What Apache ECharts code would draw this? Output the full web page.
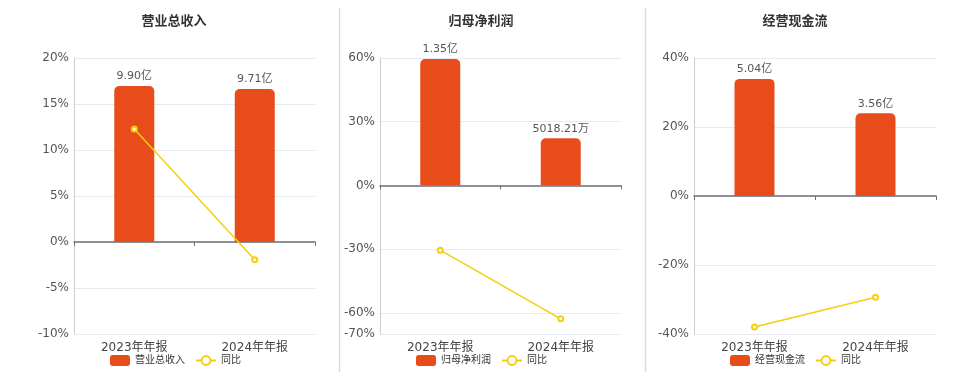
<!DOCTYPE html>
<html><head><meta charset="utf-8">
<script src="https://cdn.jsdelivr.net/npm/echarts@6/dist/echarts.min.js"></script>
<style>html,body{margin:0;padding:0;background:#fff}#c{width:960px;height:372px}</style>
</head><body><div id="c"></div>
<script>
const categories = ['2023年年报', '2024年年报'];
const titles = ['营业总收入', '归母净利润', '经营现金流'];
const yoyName = '同比';

const revenueValues = [9.90, 9.71];          // 亿
const revenueLabels = ['9.90亿', '9.71亿'];
const revenueYoY = [12.28, -1.92];           // %

const profitValues = [1.35, 0.501821];       // 亿
const profitLabels = ['1.35亿', '5018.21万'];
const profitYoY = [-30.5, -62.83];

const cashValues = [5.04, 3.56];             // 亿
const cashLabels = ['5.04亿', '3.56亿'];
const cashYoY = [-38.0, -29.37];

const yTicks1 = [-10, -5, 0, 5, 10, 15, 20];
const yTicks2 = [-70, -60, -30, 0, 30, 60];
const yTicks3 = [-40, -20, 0, 20, 40];

const FONT = "'DejaVu Sans', 'Noto Sans CJK SC', sans-serif";
const BAR_COLOR = '#E84C1B';
const LINE_COLOR = '#F5CE0E';

const panels = [
  { title: titles[0], values: revenueValues, labels: revenueLabels, yoy: revenueYoY, ticks: yTicks1,
    grid: { left: 74, right: 645 }, barRange: [-5.84, 11.68], center: 169, legendLeft: 110 },
  { title: titles[1], values: profitValues, labels: profitLabels, yoy: profitYoY, ticks: yTicks2,
    grid: { left: 380, right: 339 }, barRange: [-1.587, 1.36], center: 476, legendLeft: 416 },
  { title: titles[2], values: cashValues, labels: cashLabels, yoy: cashYoY, ticks: yTicks3,
    grid: { left: 694, right: 24 }, barRange: [-5.94, 5.94], center: 790, legendLeft: 730 }
];

const option = {
  animation: false,
  textStyle: { fontFamily: FONT },
  title: [], legend: [], grid: [], xAxis: [], yAxis: [], series: [],
  graphic: [
    { type: 'line', shape: { x1: 339.5, y1: 8, x2: 339.5, y2: 372 }, style: { stroke: '#DADADA', lineWidth: 1.5 } },
    { type: 'line', shape: { x1: 645.5, y1: 8, x2: 645.5, y2: 372 }, style: { stroke: '#DADADA', lineWidth: 1.5 } }
  ]
};

panels.forEach((p, i) => {
  option.title.push({
    text: p.title, left: p.center, top: 10, textAlign: 'center',
    textStyle: { fontSize: 13, fontWeight: 'bold', color: '#333', fontFamily: FONT }
  });
  option.legend.push({
    data: [p.title, yoyName], left: p.legendLeft, top: 355, padding: 0,
    itemWidth: 20, itemHeight: 11, itemGap: 10,
    textStyle: { fontSize: 10, color: '#333', fontFamily: FONT }
  });
  option.grid.push({ left: p.grid.left, right: p.grid.right, top: 58, bottom: 38 });
  const tMin = Math.min(...p.ticks), tMax = Math.max(...p.ticks);
  const yPctIndex = i * 2, yBarIndex = i * 2 + 1;
  option.xAxis.push({
    gridIndex: i, type: 'category', data: categories, position: 'bottom',
    axisLine: { show: false, onZero: false }, axisTick: { show: false },
    axisLabel: { fontSize: 12, color: '#444', margin: 8, fontFamily: FONT }
  });
  option.xAxis.push({
    gridIndex: i, type: 'category', data: categories, position: 'top',
    axisLine: { show: true, onZero: true, onZeroAxisIndex: yPctIndex, lineStyle: { color: '#6E7079', width: 1.5 } },
    axisTick: { show: true, inside: true, length: 4, lineStyle: { color: '#6E7079' } },
    axisLabel: { show: false }
  });
  option.yAxis.push({
    gridIndex: i, type: 'value', min: tMin, max: tMax,
    axisLabel: { fontSize: 12, color: '#555', margin: 5, formatter: '{value}%', customValues: p.ticks, fontFamily: FONT },
    axisTick: { show: false, customValues: p.ticks },
    axisLine: { show: true, lineStyle: { color: '#C9CCD3' } },
    splitLine: { show: true, lineStyle: { color: '#E6E9F2' } }
  });
  option.yAxis.push({
    gridIndex: i, type: 'value', show: false, min: p.barRange[0], max: p.barRange[1],
    splitLine: { show: false }
  });
  option.series.push({
    name: p.title, type: 'bar', xAxisIndex: i * 2, yAxisIndex: yBarIndex,
    data: p.values, barWidth: 40,
    itemStyle: { color: BAR_COLOR, borderRadius: [5, 5, 0, 0] },
    label: {
      show: true, position: 'top', distance: 4, fontSize: 11, color: '#555', fontFamily: FONT,
      formatter: (params) => p.labels[params.dataIndex]
    }
  });
  option.series.push({
    name: yoyName, type: 'line', xAxisIndex: i * 2, yAxisIndex: yPctIndex,
    data: p.yoy, symbol: 'emptyCircle', symbolSize: 5, z: 5,
    lineStyle: { color: LINE_COLOR, width: 1.5 },
    itemStyle: { color: LINE_COLOR }
  });
});

const chart = echarts.init(document.getElementById('c'), null, { renderer: 'canvas' });
chart.setOption(option);
</script>
</body></html>
